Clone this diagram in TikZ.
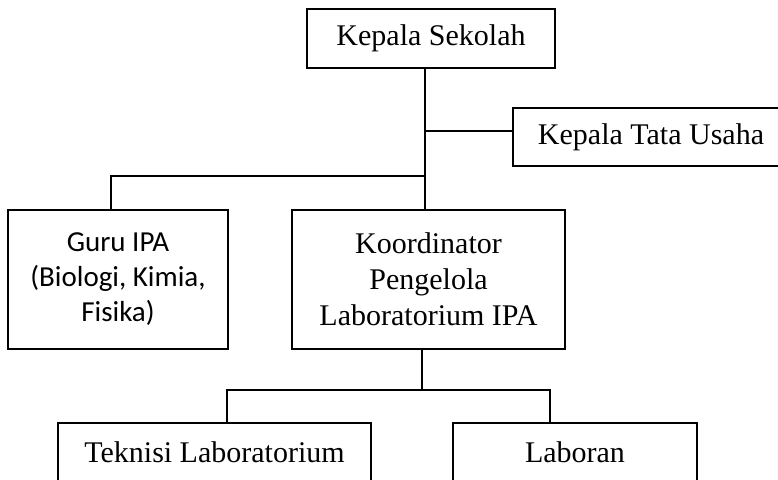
\documentclass[tikz,border=0pt]{standalone}
\usepackage{fontspec}
\setmainfont{Liberation Serif}
\newfontfamily\carlito{Carlito}
\begin{document}
\begin{tikzpicture}[x=1pt,y=-1pt,
  box/.style={draw,line width=1.5pt,inner sep=0pt,align=center,
    font=\fontsize{30}{36}\selectfont},
  sansbox/.style={box,font=\carlito\fontsize{29}{35}\selectfont},
  link/.style={line width=1.5pt}]
\useasboundingbox (0,0) rectangle (778,479);
\clip (0,0) rectangle (778,479);
\node[box,minimum width=248pt,minimum height=59pt] (ks) at (431,38.5) {Kepala Sekolah};
\node[box,minimum width=276pt,minimum height=58pt] (ktu) at (651,137) {Kepala Tata Usaha};
\node[sansbox,minimum width=220pt,minimum height=139pt] (guru) at (118,279.5) {Guru IPA\\(Biologi, Kimia,\\Fisika)};
\node[box,minimum width=273pt,minimum height=139pt] (koor) at (428.5,279.5) {Koordinator\\Pengelola\\Laboratorium IPA};
\node[box,minimum width=313pt,minimum height=59pt] (tek) at (214.5,452.5) {Teknisi Laboratorium};
\node[box,minimum width=244pt,minimum height=59pt] (lab) at (575,452.5) {Laboran};
\coordinate (tx) at (425,0);
\coordinate (ktuj) at (425,131);
\coordinate (guruj) at (425,176);
\coordinate (gurux) at (111,0);
\coordinate (bx) at (422,0);
\coordinate (bj) at (422,390);
\coordinate (tekx) at (227,0);
\coordinate (labx) at (550,0);
\draw[link] (ks.south -| tx) -- (koor.north -| tx);
\draw[link] (ktuj) -- (ktuj -| ktu.west);
\draw[link] (guruj) -- (guruj -| gurux) -- (guru.north -| gurux);
\draw[link] (koor.south -| bx) -- (bj);
\draw[link] (tek.north -| tekx) -- (bj -| tekx) -- (bj -| labx) -- (lab.north -| labx);
\end{tikzpicture}
\end{document}
